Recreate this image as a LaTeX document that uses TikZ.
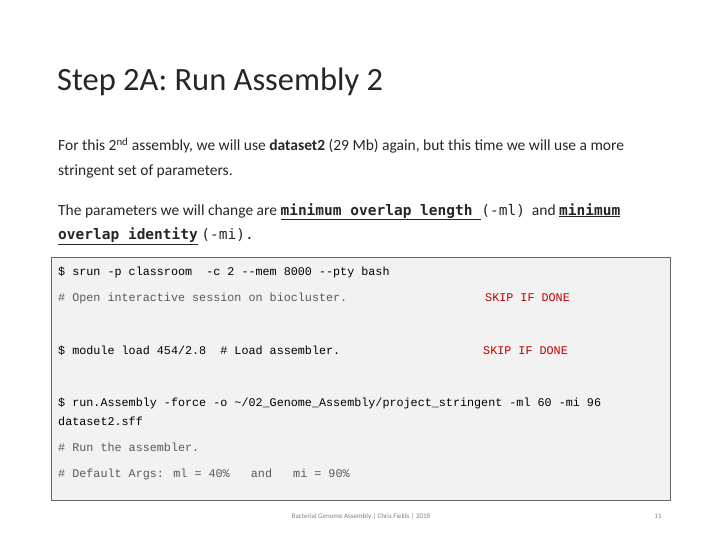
\documentclass[tikz,border=0pt]{standalone}
\usepackage{fontspec}
\setmainfont{Carlito}
\newfontfamily\mono{Liberation Mono}
\newfontfamily\monob{DejaVu Sans Mono}
\definecolor{codebg}{HTML}{F2F2F2}
\definecolor{codegray}{HTML}{595959}
\definecolor{skipred}{HTML}{C00000}
\newcommand{\mb}{\monob\bfseries\fontsize{14.5}{16}\selectfont}
\newcommand{\mr}{\monob\fontsize{14.5}{16}\selectfont}
\begin{document}
\begin{tikzpicture}[x=1pt,y=-1pt,
  txt/.style={anchor=base west,inner sep=0pt,font=\fontsize{15.5}{18}\selectfont,text=black!85},
  code/.style={anchor=base west,inner sep=0pt,font=\mono\fontsize{11.75}{13}\selectfont},
  cmt/.style={code,text=codegray},
  skip/.style={code,text=skipred}]
\useasboundingbox (0,0) rectangle (720,540);
\node[anchor=base west,inner sep=0pt,font=\fontsize{32.5}{36}\selectfont,text=black!85] (title) at (57,91) {Step 2A: Run Assembly 2};
\node[txt] (l1) at (58,151) {For this 2\textsuperscript{nd} assembly, we will use \textbf{dataset2} (29 Mb) again, but this time we will use a more};
\node[txt] (l2) at (58,176) {stringent set of parameters.};
\node[txt] (l3) at (58,215) {The parameters we will change are \underline{\mb minimum overlap length\ }{\mr(-ml)}\ \ and \underline{\mb minimum}};
\node[txt] (l4) at (58,240) {\underline{\mb overlap identity} {\mr(-mi).}};
\draw[fill=codebg,draw=gray!80!black,line width=0.8pt] (51,257) rectangle (670,500);
\node[code] (c1) at (58,275) {\$ srun -p classroom\ \ -c 2 --mem 8000 --pty bash};
\node[cmt] (c2) at (58,301) {\# Open interactive session on biocluster.};
\node[skip] (s1) at (485,301) {SKIP IF DONE};
\node[code] (c3) at (58,354) {\$ module load 454/2.8\ \ \# Load assembler.};
\node[skip] (s2) at (483,354) {SKIP IF DONE};
\node[code] (c4) at (58,406) {\$ run.Assembly -force -o \string~/02\_Genome\_Assembly/project\_stringent -ml 60 -mi 96};
\node[code] (c5) at (58,425) {dataset2.sff};
\node[cmt] (c6) at (58,451) {\# Run the assembler.};
\node[cmt] (c7) at (58,477) {\# Default Args: ml = 40\%\ \ \ and\ \ \ mi = 90\%};
\node[anchor=base,inner sep=0pt,font=\fontsize{7}{8}\selectfont,text=gray] (foot) at (361,518) {Bacterial Genome Assembly | Chris Fields | 2018};
\node[anchor=base,inner sep=0pt,font=\fontsize{7}{8}\selectfont,text=gray] (pg) at (658,518) {11};
\end{tikzpicture}
\end{document}
